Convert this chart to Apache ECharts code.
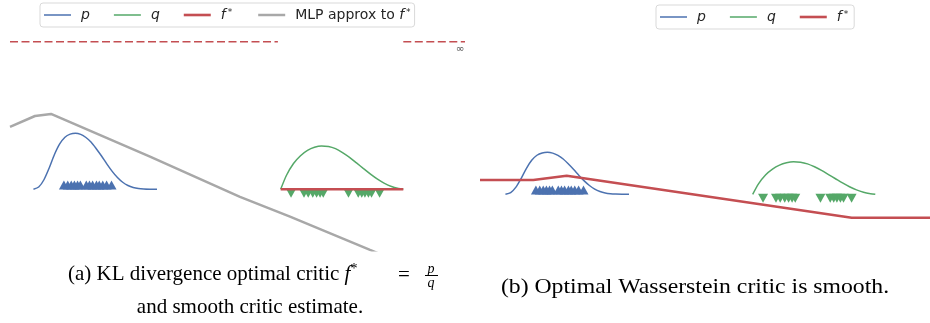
<!DOCTYPE html>
<html>
<head>
<meta charset="utf-8">
<script src="https://cdn.jsdelivr.net/npm/echarts@6/dist/echarts.min.js"></script>
<style>html,body{margin:0;padding:0;background:#fff;}#c{width:930px;height:323px;}</style>
</head>
<body>
<div id="c"></div>
<script>
// density of p (blue) and q (green), shared by both panels
const pX = [0.67,0.82,0.97,1.12,1.27,1.42,1.57,1.72,1.87,2.02,2.17,2.32,2.47,2.62,2.77,2.92,3.07,3.22,3.37,3.52,3.67,3.82,4.0,4.2];
const pY = [0.0,0.04,0.17,0.38,0.62,0.81,0.93,0.985,1.0,0.98,0.925,0.84,0.72,0.59,0.45,0.32,0.21,0.125,0.068,0.033,0.014,0.005,0.001,0.0];
const qX = [7.734,7.9,8.1,8.3,8.5,8.7,8.9,9.1,9.3,9.5,9.7,9.9,10.1,10.3,10.5,10.7,10.9,11.1,11.237];
const qY = [0,0.25,0.46,0.60,0.695,0.75,0.773,0.765,0.725,0.655,0.57,0.47,0.37,0.27,0.18,0.105,0.05,0.015,0];
// samples
const pSamples = [1.54,1.65,1.75,1.84,1.93,2.01,2.18,2.27,2.36,2.47,2.55,2.65,2.76,2.90];
const qSamples = [8.03,8.40,8.52,8.65,8.76,8.86,8.95,9.67,9.95,10.05,10.14,10.24,10.33,10.56];
// panel (a): KL critic
const infLevel = 2.636;
const klXMin = 0, klXMax = 13;
const mlpX = [0, 0.714, 1.171, 4.0, 6.571, 8.0, 10.286, 13];
const mlpY = [1.116, 1.309, 1.345, 0.582, -0.136, -0.489, -1.084, -1.776];
// panel (b): Wasserstein critic
const wX = [-0.057, 1.466, 2.42, 10.563, 12.8];
const wY = [0.34, 0.34, 0.443, -0.557, -0.557];
// legend labels
const legendA = ['p', 'q', 'f*', 'MLP approx to f*'];
const legendB = ['p', 'q', 'f*'];

const BLUE = '#4c72b0', GREEN = '#55a868', RED = '#c44e52', GRAY = '#a8a8a8';
const zip = (xs, ys) => xs.map((x, i) => [x, ys[i]]);
const rug = (xs, y) => xs.map(x => [x, y]);

const lineIcon = w => 'path://M0 0H27V' + w + 'H0Z';
const iconWidth = { 'p': 1.5, 'q': 1.5, 'f*': 2.6, 'MLP approx to f*': 2.5 };

function legendFmt(name) {
  if (name === 'p') return '{i|p}';
  if (name === 'q') return '{i|q}';
  if (name === 'f*') return '{i|f}{s|*}';
  if (name === 'MLP approx to f*') return 'MLP approx to {i|f}{s2|*}';
  return name;
}
const legendText = {
  fontFamily: 'DejaVu Sans', fontSize: 14, color: '#262626', lineHeight: 14,
  padding: [0, 0, 0, 5],
  rich: {
    i: { fontFamily: 'DejaVu Sans', fontStyle: 'italic', fontSize: 14, color: '#262626', lineHeight: 14 },
    s: { fontFamily: 'DejaVu Sans', fontSize: 9, color: '#262626', verticalAlign: 'top', lineHeight: 8, padding: [0, 2, 0, 2] },
    s2: { fontFamily: 'DejaVu Sans', fontSize: 9, color: '#262626', verticalAlign: 'top', lineHeight: 8, padding: [0, 0, 0, 2] }
  }
};
function mkLegend(names, left, top) {
  return {
    data: names.map(n => ({ name: n, icon: lineIcon(iconWidth[n]) })),
    left: left, top: top, orient: 'horizontal',
    itemWidth: 27, itemHeight: 14, itemGap: 24, symbolKeepAspect: true,
    padding: [5, 4, 5, 4],
    backgroundColor: '#ffffff', borderColor: '#d9d9d9', borderWidth: 1, borderRadius: 3,
    formatter: legendFmt, textStyle: legendText, selectedMode: false
  };
}

const chart = echarts.init(document.getElementById('c'), null, { renderer: 'canvas' });
const serif = 'Liberation Serif';
const option = {
  animation: false,
  grid: [
    { left: 10, top: 35.3, width: 455, height: 215 },
    { left: 480, top: 47.3, width: 450, height: 210 }
  ],
  xAxis: [
    { type: 'value', gridIndex: 0, min: klXMin, max: klXMax, show: false },
    { type: 'value', gridIndex: 1, min: -0.057, max: 12.8, show: false }
  ],
  yAxis: [
    { type: 'value', gridIndex: 0, min: -1.09, max: 2.75, show: false },
    { type: 'value', gridIndex: 1, min: -1.5, max: 3.5, show: false }
  ],
  legend: [ mkLegend(legendA, 40, 3), mkLegend(legendB, 656, 5) ],
  series: [
    // panel a
    { name: 'p', type: 'line', xAxisIndex: 0, yAxisIndex: 0, data: zip(pX, pY), smooth: 0.25, symbol: 'none', lineStyle: { color: BLUE, width: 1.5 }, itemStyle: { color: BLUE } },
    { name: 'q', type: 'line', xAxisIndex: 0, yAxisIndex: 0, data: zip(qX, qY), smooth: 0.25, symbol: 'none', lineStyle: { color: GREEN, width: 1.5 }, itemStyle: { color: GREEN } },
    { name: 'p samples', type: 'scatter', xAxisIndex: 0, yAxisIndex: 0, data: rug(pSamples, 0.077), symbol: 'triangle', symbolSize: [10, 9], itemStyle: { color: BLUE, opacity: 1 } },
    { name: 'q samples', type: 'scatter', xAxisIndex: 0, yAxisIndex: 0, data: rug(qSamples, -0.071), symbol: 'triangle', symbolRotate: 180, symbolSize: [10, 9], itemStyle: { color: GREEN, opacity: 1 } },
    { name: 'f*', type: 'line', xAxisIndex: 0, yAxisIndex: 0, data: [[qX[0], 0], [qX[qX.length - 1], 0]], symbol: 'none', lineStyle: { color: RED, width: 2.6 }, itemStyle: { color: RED } },
    { name: 'f* inf left', type: 'line', xAxisIndex: 0, yAxisIndex: 0, data: [[klXMin, infLevel], [qX[0] - 0.08, infLevel]], symbol: 'none', lineStyle: { color: RED, width: 1.5, type: [8, 3.5] } },
    { name: 'f* inf right', type: 'line', xAxisIndex: 0, yAxisIndex: 0, data: [[qX[qX.length - 1], infLevel], [klXMax, infLevel]], symbol: 'none', lineStyle: { color: RED, width: 1.5, type: [8, 3.5] } },
    { name: 'inf label', type: 'scatter', xAxisIndex: 0, yAxisIndex: 0, data: [[12.86, 2.5]], symbolSize: 0, silent: true,
      label: { show: true, position: 'inside', formatter: '∞', fontFamily: 'DejaVu Sans', fontSize: 10.5, color: '#262626' } },
    { name: 'MLP approx to f*', type: 'line', xAxisIndex: 0, yAxisIndex: 0, data: zip(mlpX, mlpY), symbol: 'none', clip: true, lineStyle: { color: GRAY, width: 2.5 }, itemStyle: { color: GRAY } },
    // panel b
    { name: 'p', type: 'line', xAxisIndex: 1, yAxisIndex: 1, data: zip(pX, pY), smooth: 0.25, symbol: 'none', lineStyle: { color: BLUE, width: 1.5 }, itemStyle: { color: BLUE } },
    { name: 'q', type: 'line', xAxisIndex: 1, yAxisIndex: 1, data: zip(qX, qY), smooth: 0.25, symbol: 'none', lineStyle: { color: GREEN, width: 1.5 }, itemStyle: { color: GREEN } },
    { name: 'p samples b', type: 'scatter', xAxisIndex: 1, yAxisIndex: 1, data: rug(pSamples, 0.10), symbol: 'triangle', symbolSize: [10, 9], itemStyle: { color: BLUE, opacity: 1 } },
    { name: 'q samples b', type: 'scatter', xAxisIndex: 1, yAxisIndex: 1, data: rug(qSamples, -0.095), symbol: 'triangle', symbolRotate: 180, symbolSize: [10, 9], itemStyle: { color: GREEN, opacity: 1 } },
    { name: 'f*', type: 'line', xAxisIndex: 1, yAxisIndex: 1, data: zip(wX, wY), symbol: 'none', lineStyle: { color: RED, width: 2.6 }, itemStyle: { color: RED } }
  ],
  graphic: [
    { type: 'text', left: 68, top: 262, style: {
      text: '(a) KL divergence optimal critic {fi|f}{sup|*}',
      font: '21px "Liberation Serif"', fill: '#000',
      rich: { fi: { fontFamily: serif, fontStyle: 'italic', fontSize: 21, fill: '#000', lineHeight: 24 },
              sup: { fontFamily: serif, fontSize: 14, fill: '#000', verticalAlign: 'top', lineHeight: 14 } } } },
    { type: 'text', x: 404, y: 275, style: { text: '=', font: '21px "Liberation Serif"', fill: '#000', align: 'center', verticalAlign: 'middle' } },
    { type: 'text', x: 431, y: 269, style: { text: 'p', font: 'italic 14px "Liberation Serif"', fill: '#000', align: 'center', verticalAlign: 'middle' } },
    { type: 'line', shape: { x1: 425, y1: 275.5, x2: 438, y2: 275.5 }, style: { stroke: '#000', lineWidth: 1 } },
    { type: 'text', x: 431, y: 283, style: { text: 'q', font: 'italic 14px "Liberation Serif"', fill: '#000', align: 'center', verticalAlign: 'middle' } },
    { type: 'text', x: 250, y: 307, style: { text: 'and smooth critic estimate.', font: '21px "Liberation Serif"', fill: '#000', align: 'center', verticalAlign: 'middle' } },
    { type: 'text', x: 695, y: 287, scaleX: 1.13, style: { text: '(b) Optimal Wasserstein critic is smooth.', font: '21px "Liberation Serif"', fill: '#000', align: 'center', verticalAlign: 'middle' } }
  ]
};
chart.setOption(option);
</script>
</body>
</html>
